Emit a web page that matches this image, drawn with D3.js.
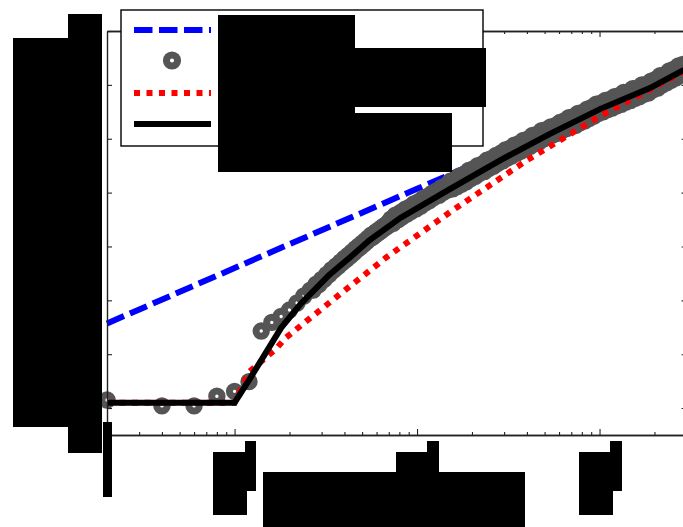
<!DOCTYPE html>
<html>
<head>
<meta charset="utf-8">
<script src="https://cdn.jsdelivr.net/npm/d3@7"></script>
<style>
  html, body { margin: 0; padding: 0; background: #fff; }
  svg { display: block; }
</style>
</head>
<body>
<script>
// ---- data ----
const xMajorTicks = [10, 100, 1000];
const xMinorTicks = [3, 4, 5, 6, 7, 8, 9, 20, 30, 40, 50, 60, 70, 80, 90,
                     200, 300, 400, 500, 600, 700, 800, 900, 2000];
const yTicks = [0, 1, 2, 3, 4, 5, 6, 7];

// power-law reference (blue dashed)
const fitX = [2, 10, 100, 1000, 3000];
const fitY = [1.57, 2.60, 4.07, 5.54, 6.24];

// observed points (grey rings)
const obsX = [2, 4, 6, 8, 10, 12, 14, 16, 18, 20, 22, 24, 26,
  27, 28, 29, 30, 31, 32, 33, 34, 35, 36, 37, 38, 39, 40, 41, 42, 43, 44, 45, 46, 47, 48, 49,
  50, 51, 52, 53, 54, 55, 56, 57, 58, 59, 60, 61, 62, 63, 64, 65, 66, 67, 68, 69, 70, 71,
  72, 74, 76, 79, 81, 83, 86, 88, 91, 93, 96, 99, 102, 105, 108, 111, 114, 117, 121, 124,
  128, 132, 136, 140, 144, 148, 152, 157, 161, 166, 171, 176, 181, 186, 192, 197,
  203, 209, 215, 221, 228, 234, 241, 248, 255, 263, 271, 278, 287, 295,
  304, 312, 322, 331, 341, 351, 361, 371, 382, 393, 405, 417, 429, 441, 454, 467,
  481, 495, 510, 524, 540, 555, 572, 588, 606, 623, 641, 660, 679, 699,
  720, 741, 762, 784, 807, 831, 855, 880, 906, 932, 959, 987, 1016, 1046, 1076, 1108,
  1140, 1173, 1208, 1243, 1279, 1317, 1355, 1395, 1435, 1477, 1520, 1565, 1611, 1658,
  1706, 1756, 1807, 1860, 1914, 1970, 2028, 2087, 2148, 2210, 2275, 2341, 2410, 2480,
  2553, 2627, 2704, 2783, 2864, 2948];
const obsY = [0.15, 0.04, 0.04, 0.22, 0.31, 0.49, 1.43, 1.59, 1.70, 1.82, 1.95, 2.08, 2.19,
  2.19, 2.30, 2.29, 2.39, 2.39, 2.48, 2.48, 2.57, 2.56, 2.64, 2.63, 2.71, 2.70, 2.78, 2.76, 2.84, 2.82, 2.90, 2.88, 2.96, 2.94, 3.01, 2.99,
  3.06, 3.04, 3.11, 3.09, 3.16, 3.14, 3.21, 3.17, 3.24, 3.21, 3.28, 3.25, 3.31, 3.28, 3.35, 3.32, 3.38, 3.35, 3.41, 3.38, 3.45, 3.41,
  3.51, 3.43, 3.58, 3.50, 3.63, 3.55, 3.69, 3.60, 3.73, 3.65, 3.79, 3.70, 3.83, 3.75, 3.89, 3.81, 3.93, 3.85, 3.99, 3.91,
  4.03, 3.95, 4.09, 4.01, 4.13, 4.05, 4.21, 4.07, 4.24, 4.11, 4.31, 4.16, 4.34, 4.20, 4.41, 4.26,
  4.44, 4.30, 4.50, 4.36, 4.53, 4.39, 4.60, 4.45, 4.63, 4.49, 4.69, 4.55, 4.73, 4.59,
  4.79, 4.64, 4.82, 4.68, 4.88, 4.73, 4.91, 4.77, 4.97, 4.82, 4.99, 4.86, 5.06, 4.91, 5.08, 4.94,
  5.15, 5.00, 5.17, 5.03, 5.22, 5.07, 5.24, 5.10, 5.30, 5.15, 5.33, 5.19, 5.39, 5.24,
  5.41, 5.25, 5.47, 5.30, 5.49, 5.33, 5.55, 5.38, 5.58, 5.42, 5.64, 5.47, 5.66, 5.50, 5.71, 5.54,
  5.73, 5.57, 5.78, 5.61, 5.80, 5.64, 5.86, 5.68, 5.87, 5.71, 5.93, 5.75, 5.94, 5.78,
  6.00, 5.83, 6.01, 5.85, 6.07, 5.91, 6.10, 5.94, 6.17, 6.00, 6.19, 6.04, 6.26, 6.09,
  6.29, 6.13, 6.35, 6.19, 6.38, 6.23];

// model A (red dotted)
const modelAX = [2, 10, 12, 17, 19, 38, 68, 152, 400, 1005, 2900];
const modelAY = [0.10, 0.10, 0.67, 1.11, 1.30, 2.12, 2.80, 3.64, 4.60, 5.42, 6.25];

// model B (black solid)
const modelBX = [2, 10, 12, 18, 23, 33, 43, 55, 81, 152, 285, 535, 1005, 1890, 2900];
const modelBY = [0.10, 0.10, 0.52, 1.49, 1.93, 2.47, 2.80, 3.12, 3.53, 4.07, 4.60, 5.09, 5.55, 5.94, 6.28];

// masked label blocks [x, y, w, h]
const maskBlocks = [
  [13, 38, 89, 389], [68, 14, 34, 24], [68, 427, 34, 26], [103, 422, 9, 75],
  [213, 452, 34, 63], [245, 441, 11, 50],
  [396, 452, 34, 22], [427, 441, 12, 33],
  [263, 472, 262, 55],
  [579, 452, 34, 63], [610, 441, 12, 50],
  [218, 15, 137, 157], [218, 48, 268, 59], [218, 113, 234, 59]
];

// ---- layout ----
const W = 683, H = 527;
const plot = { left: 107, right: 686.6, top: 31, bottom: 435 };

const svg = d3.select("body").append("svg")
  .attr("width", W).attr("height", H);

const x = d3.scaleLog().domain([2, 3000]).range([plot.left, plot.right]);
const y = d3.scaleLinear().domain([-0.5, 7]).range([plot.bottom, plot.top]);

const zip = (xs, ys) => xs.map((v, i) => [v, ys[i]]);
const line = d3.line().x(d => x(d[0])).y(d => y(d[1]));

const data = svg.append("g");

// blue dashed reference
data.append("path")
  .datum(zip(fitX, fitY))
  .attr("d", line)
  .attr("fill", "none")
  .attr("stroke", "#0000ff")
  .attr("stroke-width", 6)
  .attr("stroke-dasharray", "18.5,6.5");

// grey rings
data.append("g").selectAll("circle")
  .data(zip(obsX, obsY))
  .join("circle")
  .attr("cx", d => x(d[0]))
  .attr("cy", d => y(d[1]))
  .attr("r", 5.2)
  .attr("fill", "none")
  .attr("stroke", "#555555")
  .attr("stroke-width", 7);

// red dotted model
data.append("path")
  .datum(zip(modelAX, modelAY))
  .attr("d", line)
  .attr("fill", "none")
  .attr("stroke", "#ff0000")
  .attr("stroke-width", 6)
  .attr("stroke-dasharray", "6,6.5");

// black solid model
data.append("path")
  .datum(zip(modelBX, modelBY))
  .attr("d", line)
  .attr("fill", "none")
  .attr("stroke", "#000000")
  .attr("stroke-width", 6)
  .attr("stroke-linejoin", "miter");

// ---- axes (ticks pointing inward, no labels) ----
const axisColor = "#222";
function styleAxis(g) {
  g.selectAll("path.domain").attr("stroke", axisColor).attr("stroke-width", 1.4);
  g.selectAll(".tick line").attr("stroke", axisColor).attr("stroke-width", 1.1);
  g.selectAll("text").remove();
}
svg.append("g").attr("transform", `translate(${plot.left},0)`)
  .call(d3.axisLeft(y).tickValues(yTicks).tickSizeInner(-5).tickSizeOuter(0).tickFormat(""))
  .call(styleAxis);
svg.append("g").attr("transform", `translate(${plot.right},0)`)
  .call(d3.axisRight(y).tickValues(yTicks).tickSizeInner(-5).tickSizeOuter(0).tickFormat(""))
  .call(styleAxis);
svg.append("g").attr("transform", `translate(0,${plot.bottom})`)
  .call(d3.axisBottom(x).tickValues(xMajorTicks).tickSizeInner(-6).tickSizeOuter(0).tickFormat(""))
  .call(styleAxis);
svg.append("g").attr("transform", `translate(0,${plot.bottom})`)
  .call(d3.axisBottom(x).tickValues(xMinorTicks).tickSizeInner(-3).tickSizeOuter(0).tickFormat(""))
  .call(styleAxis);
svg.append("g").attr("transform", `translate(0,${plot.top})`)
  .call(d3.axisTop(x).tickValues(xMajorTicks).tickSizeInner(-6).tickSizeOuter(0).tickFormat(""))
  .call(styleAxis);
svg.append("g").attr("transform", `translate(0,${plot.top})`)
  .call(d3.axisTop(x).tickValues(xMinorTicks).tickSizeInner(-3).tickSizeOuter(0).tickFormat(""))
  .call(styleAxis);

// ---- legend ----
const legend = svg.append("g");
legend.append("rect")
  .attr("x", 121).attr("y", 10).attr("width", 362).attr("height", 136)
  .attr("fill", "#fff").attr("stroke", "#000").attr("stroke-width", 1.4);
const lx0 = 134, lx1 = 211;
legend.append("line").attr("x1", lx0).attr("x2", lx1).attr("y1", 30).attr("y2", 30)
  .attr("stroke", "#0000ff").attr("stroke-width", 6).attr("stroke-dasharray", "18.5,6.5");
legend.append("circle").attr("cx", 172).attr("cy", 60.5).attr("r", 5.6)
  .attr("fill", "none").attr("stroke", "#555555").attr("stroke-width", 7);
legend.append("line").attr("x1", lx0).attr("x2", lx1).attr("y1", 93).attr("y2", 93)
  .attr("stroke", "#ff0000").attr("stroke-width", 6).attr("stroke-dasharray", "6,6.5");
legend.append("line").attr("x1", lx0).attr("x2", lx1).attr("y1", 124).attr("y2", 124)
  .attr("stroke", "#000").attr("stroke-width", 6);

// ---- masked label blocks ----
svg.append("g").selectAll("rect")
  .data(maskBlocks)
  .join("rect")
  .attr("x", d => d[0]).attr("y", d => d[1])
  .attr("width", d => d[2]).attr("height", d => d[3])
  .attr("fill", "#000");
</script>
</body>
</html>
